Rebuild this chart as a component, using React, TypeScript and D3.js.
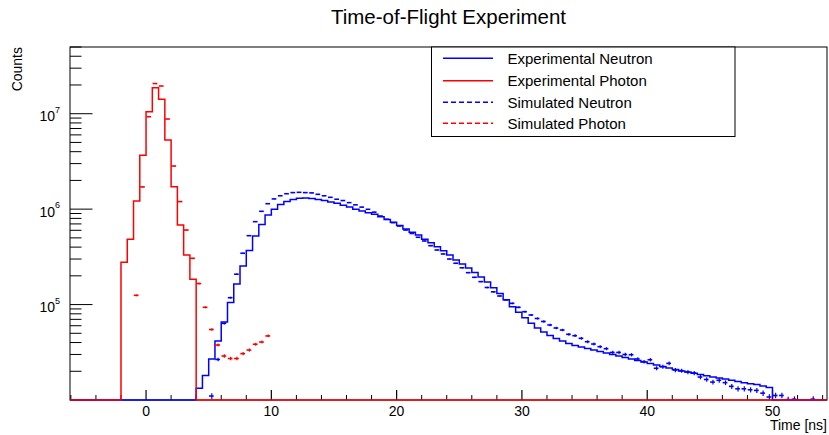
import React from 'react';
import * as d3 from 'd3';

const W = 829;
const H = 435;
const X_DOMAIN: [number, number] = [-6.07, 54.35];
const Y_DOMAIN: [number, number] = [1e4, 5e7];
const BIN_WIDTH = 0.5;
const X_MAJOR_TICKS = [0, 10, 20, 30, 40, 50];
const X_MINOR_STEP = 2;
const Y_LABEL_EXPONENTS = [5, 6, 7];
const TITLE = 'Time-of-Flight Experiment';
const X_TITLE = 'Time [ns]';
const Y_TITLE = 'Counts';
const LEGEND_LABELS = ['Experimental Neutron', 'Experimental Photon', 'Simulated Neutron', 'Simulated Photon'];

// Experimental photon: bins of 0.5 ns starting at -2 ns
const EXP_PHOTON_START = -2;
const expPhoton = [2.77e5, 4.83e5, 1.22e6, 3.66e6, 1.05e7, 1.87e7, 1.42e7, 5.3e6, 1.72e6, 6.82e5, 3.31e5, 1.84e5];

// Simulated photon: bins of 0.5 ns starting at -1 ns
const SIM_PHOTON_START = -1;
const simPhoton = [
  1.25e5, 1.71e6, 9.3e6, 2.07e7, 1.95e7, 8.8e6, 2.83e6, 1.2e6, 6.04e5, 3.05e5,
  1.66e5, 9.36e4, 5.48e4, 3.77e4, 2.89e4, 2.72e4, 2.72e4, 3.06e4, 3.34e4, 3.84e4,
  4.05e4, 4.69e4,
];

// Experimental neutron: bins of 0.5 ns starting at 4 ns
const EXP_NEUTRON_START = 4;
const expNeutron = [
  1.33e4, 1.81e4, 2.69e4, 4.15e4, 6.57e4, 1.05e5, 1.64e5, 2.54e5, 3.69e5, 5.23e5,
  6.9e5, 8.68e5, 1.0e6, 1.12e6, 1.2e6, 1.26e6, 1.3e6, 1.31e6, 1.29e6, 1.26e6,
  1.23e6, 1.19e6, 1.15e6, 1.1e6, 1.05e6, 1.0e6, 9.56e5, 9.18e5, 8.83e5, 8.33e5,
  7.79e5, 7.28e5, 6.74e5, 6.19e5, 5.72e5, 5.36e5, 4.83e5, 4.45e5, 4.04e5, 3.67e5,
  3.31e5, 2.93e5, 2.66e5, 2.42e5, 2.17e5, 1.95e5, 1.72e5, 1.5e5, 1.31e5, 1.12e5,
  9.5e4, 8.3e4, 7.29e4, 6.36e4, 5.68e4, 5.16e4, 4.74e4, 4.41e4, 4.15e4, 3.91e4,
  3.73e4, 3.59e4, 3.47e4, 3.34e4, 3.22e4, 3.11e4, 3.0e4, 2.89e4, 2.79e4, 2.69e4,
  2.59e4, 2.5e4, 2.41e4, 2.33e4, 2.24e4, 2.16e4, 2.09e4, 2.01e4, 1.97e4, 1.91e4,
  1.85e4, 1.8e4, 1.74e4, 1.7e4, 1.66e4, 1.61e4, 1.56e4, 1.52e4, 1.48e4, 1.45e4,
  1.4e4, 1.35e4,
];

// Simulated neutron: bins of 0.5 ns starting at 4 ns
const SIM_NEUTRON_START = 4;
const simNeutron = [
  0, 0, 1.1e4, 2.66e4, 6.36e4, 1.18e5, 2.08e5, 3.45e5, 5.27e5, 7.39e5,
  9.49e5, 1.14e6, 1.28e6, 1.38e6, 1.45e6, 1.49e6, 1.5e6, 1.49e6, 1.48e6, 1.43e6,
  1.38e6, 1.33e6, 1.27e6, 1.23e6, 1.17e6, 1.11e6, 1.05e6, 9.96e5, 9.3e5, 8.47e5,
  7.83e5, 7.21e5, 6.66e5, 6.04e5, 5.56e5, 5.07e5, 4.64e5, 4.14e5, 3.73e5, 3.39e5,
  3.0e5, 2.71e5, 2.43e5, 2.16e5, 1.93e5, 1.74e5, 1.51e5, 1.36e5, 1.23e5, 1.12e5,
  1.03e5, 9.36e4, 8.42e4, 7.78e4, 7.15e4, 6.65e4, 6.11e4, 5.68e4, 5.41e4, 4.88e4,
  4.72e4, 4.43e4, 4.08e4, 3.86e4, 3.62e4, 3.45e4, 3.15e4, 3.15e4, 3.0e4, 2.98e4,
  2.69e4, 2.52e4, 2.64e4, 2.15e4, 2.23e4, 2.42e4, 2.06e4, 2.03e4, 1.96e4, 1.92e4,
  1.74e4, 1.64e4, 1.54e4, 1.61e4, 1.52e4, 1.39e4, 1.31e4, 1.31e4, 1.28e4, 1.26e4,
  1.18e4, 1.075e4, 1.115e4, 1.115e4, 1.01e4, 1.02e4, 0, 0, 1.02e4, 0,
];

const BLUE = '#0000ff';
const RED = '#ff0000';
const FONT = '"Liberation Sans", Arial, Helvetica, sans-serif';

export default function App() {
  const left = 70, right = 827, top = 47, bottom = 400;
  const x = d3.scaleLinear().domain(X_DOMAIN).range([left, right]);
  const y = d3.scaleLog().domain(Y_DOMAIN).range([bottom, top]).clamp(true);
  const yv = (v: number) => (v > Y_DOMAIN[0] ? y(v) : bottom);

  const histPath = (start: number, values: number[]) => {
    const pts: [number, number][] = [[X_DOMAIN[0], 0]];
    values.forEach((v, i) => pts.push([start + i * BIN_WIDTH, v]));
    pts.push([start + values.length * BIN_WIDTH, 0]);
    pts.push([X_DOMAIN[1], 0]);
    return d3.line<[number, number]>().x(d => x(d[0])).y(d => yv(d[1])).curve(d3.curveStepAfter)(pts) || '';
  };

  const markers = (start: number, values: number[], color: string, key: string) =>
    values.map((v, i) => {
      if (!(v > Y_DOMAIN[0])) return null;
      const x0 = x(start + i * BIN_WIDTH);
      const xc = x(start + (i + 0.5) * BIN_WIDTH);
      const err = Math.sqrt(v * 50);
      const yc = y(v);
      return (
        <g key={key + i}>
          <line x1={x0 + 0.3} x2={x0 + 5} y1={yc} y2={yc} stroke={color} strokeWidth={1.6} />
          <line x1={xc} x2={xc} y1={y(v + err)} y2={y(Math.max(v - err, Y_DOMAIN[0]))} stroke={color} strokeWidth={1.2} />
        </g>
      );
    });

  // axis ticks
  const xMinor: number[] = [];
  for (let t = Math.ceil(X_DOMAIN[0] / X_MINOR_STEP) * X_MINOR_STEP; t <= X_DOMAIN[1]; t += X_MINOR_STEP) {
    if (t % 10 !== 0) xMinor.push(t);
  }
  const yTicks: { v: number; major: boolean }[] = [];
  for (let e = 4; e <= 7; e++) {
    for (let m = 1; m <= 9; m++) {
      const v = m * Math.pow(10, e);
      if (v >= Y_DOMAIN[0] && v <= Y_DOMAIN[1]) yTicks.push({ v, major: m === 1 });
    }
  }

  const legendX = 431.5, legendY = 47, legendW = 303.5, legendH = 89.5;
  const legendRows = [58.3, 80.7, 102.3, 123.3];
  const legendStyles = [
    { color: BLUE, dash: undefined },
    { color: RED, dash: undefined },
    { color: BLUE, dash: '5,3' },
    { color: RED, dash: '5,3' },
  ];

  return (
    <svg width={W} height={H} style={{ position: 'absolute', left: 0, top: 0, background: '#fff' }} fontFamily={FONT}>
      <rect x={0} y={0} width={W} height={H} fill="#fff" />
      <defs>
        <clipPath id="frame">
          <rect x={left} y={top} width={right - left} height={bottom - top + 1} />
        </clipPath>
      </defs>
      {/* frame */}
      <rect x={left} y={top} width={right - left} height={bottom - top} fill="none" stroke="#000" strokeWidth={1} />
      {/* x ticks */}
      {X_MAJOR_TICKS.map(t => (
        <line key={'xM' + t} x1={x(t)} x2={x(t)} y1={bottom} y2={bottom - 10} stroke="#000" strokeWidth={1.2} />
      ))}
      {xMinor.map(t => (
        <line key={'xm' + t} x1={x(t)} x2={x(t)} y1={bottom} y2={bottom - 5} stroke="#000" strokeWidth={1} />
      ))}
      {X_MAJOR_TICKS.map(t => (
        <text key={'xl' + t} x={x(t)} y={416} fontSize={14} textAnchor="middle" fill="#000">{t}</text>
      ))}
      {/* y ticks */}
      {yTicks.map(t => (
        <line key={'y' + t.v} x1={left} x2={left + (t.major ? 22.5 : 11.5)} y1={y(t.v)} y2={y(t.v)} stroke="#000" strokeWidth={1} />
      ))}
      {Y_LABEL_EXPONENTS.map(e => (
        <text key={'yl' + e} x={60} y={y(Math.pow(10, e)) + 7.5} textAnchor="end" fill="#000">
          <tspan fontSize={14}>10</tspan>
          <tspan fontSize={9} dy={-8.5}>{e}</tspan>
        </text>
      ))}
      {/* histograms */}
      <g clipPath="url(#frame)" fill="none">
        <path d={histPath(EXP_NEUTRON_START, expNeutron)} stroke={BLUE} strokeWidth={1.5} />
        {markers(SIM_NEUTRON_START, simNeutron, BLUE, 'sn')}
        {markers(SIM_PHOTON_START, simPhoton, RED, 'sp')}
        <path d={histPath(EXP_PHOTON_START, expPhoton)} stroke={RED} strokeWidth={1.5} />
      </g>
      {/* titles */}
      <text x={(left + right) / 2} y={24} fontSize={20.5} textAnchor="middle" fill="#000">{TITLE}</text>
      <text x={827} y={430} fontSize={14} textAnchor="end" fill="#000">{X_TITLE}</text>
      <text transform={`translate(22,${top}) rotate(-90)`} fontSize={14} textAnchor="end" fill="#000">{Y_TITLE}</text>
      {/* legend */}
      <rect x={legendX} y={legendY} width={legendW} height={legendH} fill="#fff" stroke="#000" strokeWidth={1} />
      {LEGEND_LABELS.map((lab, i) => (
        <g key={lab}>
          <line x1={443} x2={493} y1={legendRows[i]} y2={legendRows[i]} stroke={legendStyles[i].color} strokeWidth={1.5} strokeDasharray={legendStyles[i].dash} />
          <text x={507.5} y={legendRows[i] + 5.5} fontSize={15} fill="#000">{lab}</text>
        </g>
      ))}
    </svg>
  );
}
